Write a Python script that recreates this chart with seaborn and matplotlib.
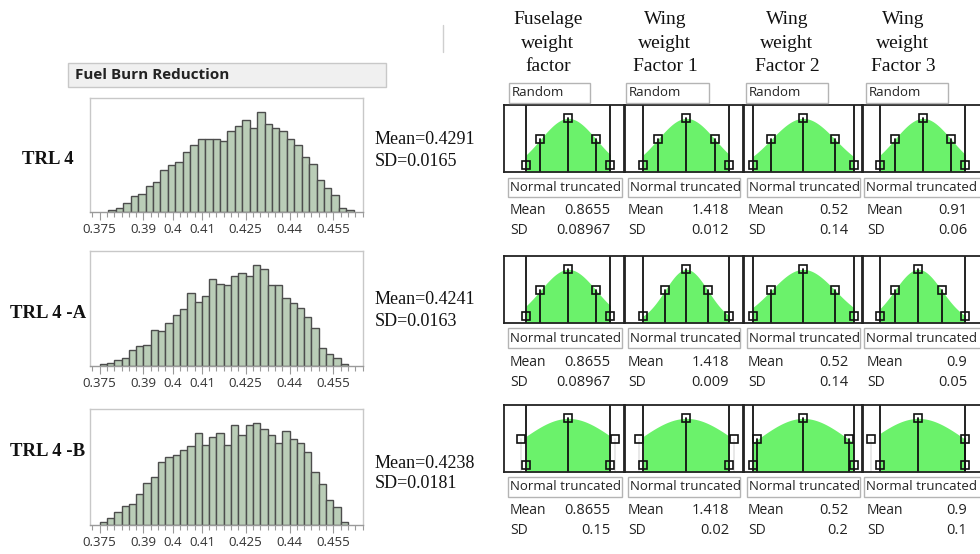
import numpy as np
import pandas as pd
import matplotlib
matplotlib.use("Agg")
import matplotlib.pyplot as plt
import seaborn as sns
from matplotlib.patches import Rectangle
from matplotlib.lines import Line2D

# ---- Left: simulated Fuel Burn Reduction histograms ---------------------------
trl_labels = ["TRL 4", "TRL 4 -A", "TRL 4 -B"]
trl_means = [0.4291, 0.4241, 0.4238]
trl_sds = [0.0165, 0.0163, 0.0181]

# bar heights (relative counts), one per bin
trl4_counts = [7, 12, 26, 48, 55, 80, 90, 126, 142, 152, 182, 202, 219, 219, 219, 215, 244,
               259, 277, 255, 302, 265, 254, 244, 219, 201, 167, 144, 96, 72, 52, 12, 5]
trl4a_counts = [5, 10, 17, 25, 47, 58, 63, 107, 104, 127, 152, 169, 218, 190, 208, 260, 245,
                240, 268, 277, 268, 300, 288, 240, 240, 203, 188, 173, 145, 112, 53, 37, 23, 5]
trl4b_counts = [10, 21, 39, 56, 64, 92, 125, 143, 188, 203, 211, 225, 236, 275, 239, 265, 275,
                239, 300, 271, 300, 305, 287, 271, 245, 283, 259, 245, 219, 160, 122, 75, 53, 10]
trl_counts = [trl4_counts, trl4a_counts, trl4b_counts]
trl_bin_range = [(0.378, 0.462), (0.375, 0.46), (0.375, 0.46)]

hist_ticks = [0.375, 0.39, 0.4, 0.41, 0.425, 0.44, 0.455]

# ---- Right: input distributions (Normal truncated) ----------------------------
factor_names = ["Fuselage\nweight\nfactor", "Wing\nweight\nFactor 1",
                "Wing\nweight\nFactor 2", "Wing\nweight\nFactor 3"]
trunc_lo = [0.731, 1.400, 0.30, 0.82]
trunc_hi = [1.000, 1.436, 0.74, 1.00]
row_means = [[0.8655, 1.418, 0.52, 0.91],
             [0.8655, 1.418, 0.52, 0.9],
             [0.8655, 1.418, 0.52, 0.9]]
row_sds = [[0.08967, 0.012, 0.14, 0.06],
           [0.08967, 0.009, 0.14, 0.05],
           [0.15, 0.02, 0.2, 0.1]]

# ---- layout (pixels on a 980x554 canvas) -------------------------------------
W, H = 980, 554
fig = plt.figure(figsize=(W / 100, H / 100), dpi=100)
sns.set_style("white")
SANS = ["Open Sans", "DejaVu Sans"]
SERIF = ["Liberation Serif", "DejaVu Serif"]
plt.rcParams["font.family"] = SANS

BAR = "#bacdb7"
BAR_EDGE = "#4d4d4d"
GREEN = "#6bf26b"


def rect(x0, y0, x1, y1):
    return [x0 / W, 1 - y1 / H, (x1 - x0) / W, (y1 - y0) / H]


def ftext(x, y, s, **kw):
    fig.text(x / W, 1 - y / H, s, **kw)


def fbox(x0, y0, x1, y1, fc="white", ec="#b4b4b4"):
    fig.add_artist(Rectangle((x0 / W, 1 - y1 / H), (x1 - x0) / W, (y1 - y0) / H,
                             transform=fig.transFigure, facecolor=fc, edgecolor=ec, lw=1))


# header box
fbox(68, 63, 386, 87, fc="#f0f0f0", ec="#c8c8c8")
ftext(75, 75, "Fuel Burn Reduction", fontsize=11, fontweight="bold", va="center",
      color="#222222")

hist_rows = [(98, 212), (251, 366), (409, 525)]
text_rows = [(140, 162), (300, 322), (463, 484)]
label_rows = [160, 313, 452]
XMIN, XMAX = 0.37168, 0.46517

for i in range(3):
    ax = fig.add_axes(rect(90, hist_rows[i][0], 363, hist_rows[i][1]))
    lo, hi = trl_bin_range[i]
    edges = np.linspace(lo, hi, len(trl_counts[i]) + 1)
    df = pd.DataFrame({"x": (edges[:-1] + edges[1:]) / 2, "n": trl_counts[i]})
    sns.histplot(data=df, x="x", weights="n", bins=edges.tolist(), ax=ax, color=BAR,
                 edgecolor=BAR_EDGE, linewidth=1.0, alpha=1)
    ax.set_xlim(XMIN, XMAX)
    ax.set_ylim(0, max(trl_counts[i]) * 1.14)
    ax.set_xlabel("")
    ax.set_ylabel("")
    ax.set_yticks([])
    ax.set_xticks(hist_ticks)
    ax.set_xticklabels([f"{t:g}" for t in hist_ticks])
    ax.set_xticks(np.arange(0.3725, 0.4651, 0.0025), minor=True)
    ax.tick_params(axis="x", which="major", length=6, width=0.8, color="#9a9a9a",
                   labelsize=9.5, labelcolor="#333333", pad=2, direction="out", bottom=True)
    ax.tick_params(axis="x", which="minor", length=3.5, width=0.8, color="#9a9a9a",
                   direction="out", bottom=True)
    for sp in ax.spines.values():
        sp.set_color("#c8c8c8")
        sp.set_linewidth(1)
    ax.spines["bottom"].set_color("#9a9a9a")

    ftext(48, label_rows[i], trl_labels[i], family=SERIF, fontsize=13.5, fontweight="bold",
          ha="center", va="center", color="#111111")
    ftext(375, text_rows[i][0], f"Mean={trl_means[i]:.4f}", family=SERIF, fontsize=13,
          va="center", color="#111111")
    ftext(375, text_rows[i][1], f"SD={trl_sds[i]:.4f}", family=SERIF, fontsize=13,
          va="center", color="#111111")

# faint divider line at the top
fig.add_artist(Line2D([443 / W, 443 / W], [1 - 25 / H, 1 - 52 / H], transform=fig.transFigure,
                      color="#cfcfcf", lw=1))

col_x = [(504, 624), (625, 743), (744, 862), (863, 982)]
col_xlim = [(0.6595, 1.0438), (1.3923, 1.4417), (0.2617, 0.7769), (0.783, 1.035)]
head_cx = [548, 665, 787, 903]
random_box = [(509, 590), (626, 709), (746, 828), (866, 948)]
nt_box = [(508, 622), (628, 740), (747, 860), (864, 981)]
panel_rows = [(105, 172), (256, 323), (405, 472)]
nt_rows = [(178, 197), (328, 348), (477, 497)]
stat_rows = [(211, 230), (362, 382), (510, 531)]
label_x = [510, 628, 748, 867]
value_x = [610, 729, 848, 967]
PEAK = 0.8

for c in range(4):
    for k, line in enumerate(factor_names[c].split("\n")):
        ftext(head_cx[c], 19 + 24 * k, line, family=SERIF, fontsize=14, ha="center",
              va="center", color="#111111")
    fbox(random_box[c][0], 83, random_box[c][1], 103)
    ftext(random_box[c][0] + 3, 93, "Random", fontsize=9.5, va="center", color="#222222")

for r in range(3):
    for c in range(4):
        ax = fig.add_axes(rect(col_x[c][0], panel_rows[r][0], col_x[c][1], panel_rows[r][1]))
        mu, sd = row_means[r][c], row_sds[r][c]
        lo, hi = trunc_lo[c], trunc_hi[c]
        ax.set_xlim(*col_xlim[c])
        ax.set_ylim(0, 1)
        xs = np.linspace(lo, hi, 200)
        ys = PEAK * np.exp(-0.5 * ((xs - mu) / sd) ** 2)
        ax.fill_between(xs, 0, ys, color=GREEN, lw=0)
        for lim in (lo, hi):
            ax.plot([lim, lim], [0, 1], color="#111111", lw=1.3)
        for hx in (mu - sd, mu, mu + sd):
            hy = PEAK * np.exp(-0.5 * ((hx - mu) / sd) ** 2)
            stem = "#111111" if lo <= hx <= hi else "#e6e6e6"
            ax.plot([hx, hx], [0, hy], color=stem, lw=1.3)
            ax.plot(hx, hy, "s", mfc="none", mec="#111111", ms=6, mew=1.2)
        ax.plot([lo, hi], [0.1, 0.1], "s", mfc="none", mec="#111111", ms=6, mew=1.2,
                lw=0)
        ax.set_xticks([])
        ax.set_yticks([])
        for sp in ax.spines.values():
            sp.set_color("#222222")
            sp.set_linewidth(1.3)

        y0, y1 = nt_rows[r]
        fbox(nt_box[c][0], y0, nt_box[c][1], y1)
        ftext(nt_box[c][0] + 2, (y0 + y1) / 2, "Normal truncated", fontsize=9.5, va="center",
              color="#222222")
        ftext(label_x[c], stat_rows[r][0], "Mean", fontsize=10, va="center", color="#222222")
        ftext(label_x[c], stat_rows[r][1], "SD", fontsize=10, va="center", color="#222222")
        ftext(value_x[c], stat_rows[r][0], f"{mu:g}", fontsize=10.5, va="center", ha="right",
              color="#222222")
        ftext(value_x[c], stat_rows[r][1], f"{sd:g}", fontsize=10.5, va="center", ha="right",
              color="#222222")

fig.savefig("out.png", dpi=100, facecolor="white")
